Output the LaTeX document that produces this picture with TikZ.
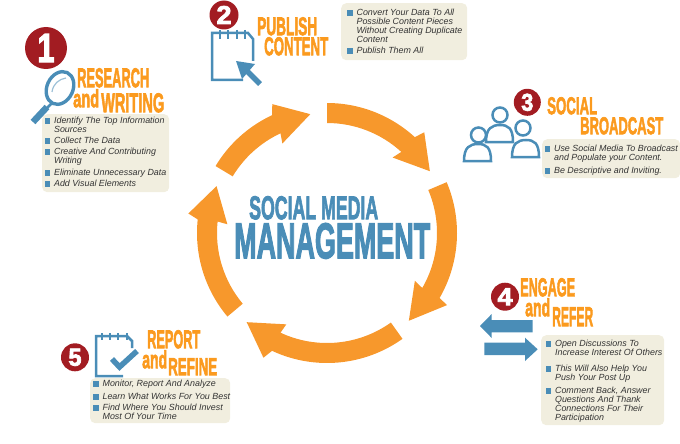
\documentclass[tikz,border=0pt]{standalone}
\usepackage{fontspec}
\setmainfont{Liberation Sans}
\newfontfamily\headfont[FakeBold=3]{Liberation Sans}
\usetikzlibrary{positioning}
\definecolor{ringorange}{HTML}{F7982C}
\definecolor{headorange}{HTML}{FB9A1E}
\definecolor{iconblue}{HTML}{4A8DB7}
\definecolor{panelcream}{HTML}{F1EEDF}
\definecolor{badgered}{HTML}{A21C22}
\definecolor{itemgray}{HTML}{333333}
\newcommand{\fitword}[3]{\resizebox{#1pt}{#2pt}{\headfont\bfseries #3}}

\begin{document}
\begin{tikzpicture}[
  x=1pt, y=1pt,
  panel/.style={fill=panelcream, rounded corners=5pt, anchor=north west, inner sep=0pt},
  bulletsq/.style={fill=iconblue, minimum size=5.4pt, inner sep=0pt},
  itemtext/.style={anchor=north west, align=left, inner sep=0pt, text=itemgray,
    font=\fontsize{8.9}{9}\selectfont\itshape},
  headword/.style={anchor=north west, inner sep=0pt, text=headorange},
  titleword/.style={anchor=north west, inner sep=0pt, text=iconblue},
  badge/.style={circle, fill=badgered, inner sep=0pt, text=white},
  iconline/.style={draw=iconblue, line width=2.5pt}
]
\useasboundingbox (0,0) rectangle (680,-444);

% ring of arrows
\begin{scope}[shift={(327,-233)}]
\foreach \s/\e/\wo/\t/\wi in {90/47.5/46/31/49, 23/-30/-31/-47/-28.5, -54.5/-115/-117/-132/-114,
    220/174/172/157/175, 149/115/113/98/116.5} {
  \fill[ringorange] (\s:130pt) arc[start angle=\s, end angle=\e, radius=130pt]
    -- (\wo:140pt) -- (\t:120pt) -- (\wi:100pt) -- (\e:110pt)
    arc[start angle=\e, end angle=\s, radius=110pt] -- cycle;
}
\end{scope}

% center title
\node[titleword] (social) at (249,-196) {\fitword{129}{23}{SOCIAL MEDIA}};
\node[titleword] (management) at (234,-223) {\fitword{196}{35}{MANAGEMENT}};

% panels
\node[panel, minimum width=127pt, minimum height=78pt] (panelA) at (42,-114) {};
\node[panel, minimum width=126pt, minimum height=57pt] (panelB) at (341,-3) {};
\node[panel, minimum width=138pt, minimum height=39pt] (panelC) at (542,-139) {};
\node[panel, minimum width=123pt, minimum height=90pt] (panelD) at (541,-335) {};
\node[panel, minimum width=140pt, minimum height=45pt] (panelE) at (90,-378) {};

% list items
\foreach \id/\x/\y/\txt in {
    a/47.5/121/{Identify The Top Information\\Sources},
    b/47.5/141/{Collect The Data},
    c/47.5/152/{Creative And Contributing\\Writing},
    d/47.5/173/{Eliminate Unnecessary Data},
    e/47.5/184/{Add Visual Elements},
    f/350/13/{Convert Your Data To All\\Possible Content Pieces\\Without Creating Duplicate\\Content},
    g/350/51/{Publish Them All},
    h/547.5/149/{Use Social Media To Broadcast\\and Populate your Content.},
    i/547.5/171/{Be Descriptive and Inviting.},
    j/548.5/344/{Open Discussions To\\Increase Interest Of Others},
    k/548.5/369/{This Will Also Help You\\Push Your Post Up},
    l/548.5/391/{Comment Back, Answer\\Questions And Thank\\Connections For Their\\Participation},
    m/96/384/{Monitor, Report And Analyze},
    n/96/397/{Learn What Works For You Best},
    o/96/408/{Find Where You Should Invest\\Most Of Your Time}} {
  \node[bulletsq] (sq\id) at (\x,-\y) {};
  \node[itemtext] (item\id) at ([xshift=3.5pt,yshift=0.8pt]sq\id.north east) {\txt};
}

% headings
\node[headword] (research) at (77,-68) {\fitword{72}{19}{RESEARCH}};
\node[headword] (andA) at (73,-89) {\fitword{26}{18}{and}};
\node[headword] (writing) at (101,-93) {\fitword{63}{19}{WRITING}};
\node[headword] (publish) at (257,-17) {\fitword{60}{18}{PUBLISH}};
\node[headword] (content) at (264,-37) {\fitword{64}{18}{CONTENT}};
\node[headword] (socialword) at (547,-97) {\fitword{50}{17}{SOCIAL}};
\node[headword] (broadcast) at (580,-117) {\fitword{83}{17}{BROADCAST}};
\node[headword] (engage) at (520,-278) {\fitword{55}{18}{ENGAGE}};
\node[headword] (andD) at (525,-298) {\fitword{25}{18}{and}};
\node[headword] (refer) at (552,-307) {\fitword{41}{19}{REFER}};
\node[headword] (report) at (147,-330) {\fitword{53}{18}{REPORT}};
\node[headword] (andE) at (142,-350) {\fitword{25}{18}{and}};
\node[headword] (refine) at (168,-358) {\fitword{49}{17}{REFINE}};

% magnifier
\draw[iconline, line width=2.6pt] (53,-102) -- (46,-109);
\draw[iconline, line width=6.5pt] (47,-107) -- (33,-122);
\draw[iconline, line width=3.4pt, rotate around={-25:(60,-88)}] (60,-88) ellipse[x radius=13pt, y radius=17pt];
\draw[iconblue!55, line width=1.2pt] (52,-92) .. controls (53,-84) and (59,-79) .. (66,-78);

% notepad and cursor
\draw[iconline] (253,-61) -- (253,-39) -- (248,-33) -- (212,-33) -- (212,-80) -- (243,-80);
\foreach \x in {220,228,237,245} {
  \draw[iconline, line width=2pt] (\x,-30) -- (\x,-39);
}
\fill[iconblue] (236,-61) -- (255,-64) -- (242,-79) -- cycle;
\draw[iconline, line width=5.5pt] (246,-70) -- (260,-84);

% people
\foreach \hx/\hy/\bx/\by in {500/115/486/142, 478.5/135/464/161, 523/128/512/157} {
  \draw[iconline, fill=white] (\bx,-\by)
    .. controls (\bx,-\by+14) and (\bx+6,-\by+17) .. (\bx+14,-\by+17)
    .. controls (\bx+22,-\by+17) and (\bx+27,-\by+14) .. (\bx+27,-\by) -- cycle;
  \draw[iconline, fill=white] (\hx,-\hy) circle[radius=7.5pt];
}

% two arrows
\fill[iconblue] (480,-326) -- (491.7,-314) -- (491.7,-320) -- (532.7,-320) -- (532.7,-332.3)
  -- (491.7,-332.3) -- (491.7,-338) -- cycle;
\fill[iconblue] (537.7,-349.3) -- (525,-337.7) -- (525,-342.7) -- (484.3,-342.7) -- (484.3,-355)
  -- (525,-355) -- (525,-361) -- cycle;

% notepad and check
\draw[iconline] (132,-348) -- (132,-341) -- (127,-336) -- (96,-336) -- (96,-376) -- (123,-376);
\foreach \x in {102,110,118,127} {
  \draw[iconline, line width=1.8pt] (\x,-333) -- (\x,-340);
}
\draw[iconline, line width=5.5pt] (112,-359) -- (119.5,-367) -- (137,-351);

% number badges
\node[badge, minimum size=42pt] (one) at (46,-48) {\fitword{17}{28}{1}};
\node[badge, minimum size=29pt] (two) at (224,-15) {\fitword{15}{18}{2}};
\node[badge, minimum size=27pt] (three) at (527.3,-102.3) {\fitword{12}{17}{3}};
\node[badge, minimum size=28pt] (four) at (505,-296.7) {\fitword{15}{17}{4}};
\node[badge, minimum size=28pt] (five) at (75,-357.3) {\fitword{13}{17}{5}};
\end{tikzpicture}
\end{document}
